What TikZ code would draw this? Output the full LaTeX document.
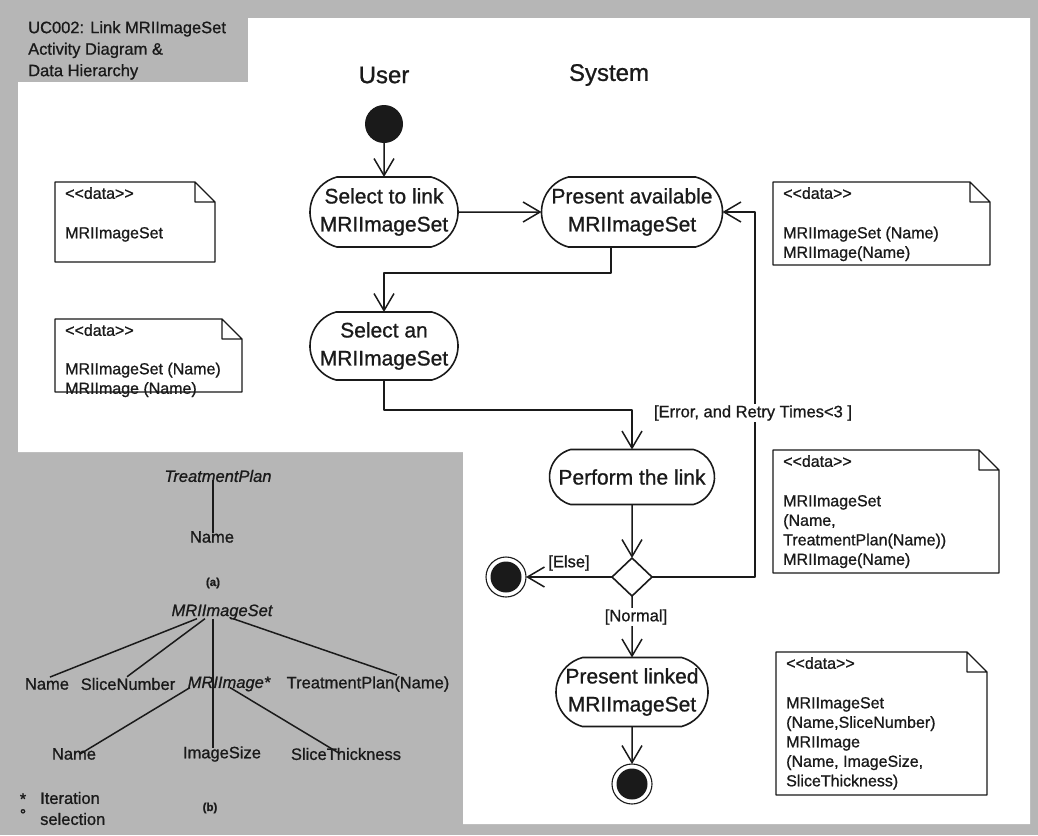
\documentclass[tikz,border=0pt]{standalone}
\usepackage{fontspec}
\setmainfont{Liberation Sans}[FakeBold=0.9]
\usetikzlibrary{arrows.meta,shapes.misc,shapes.geometric}

\definecolor{panelgrey}{RGB}{182,182,182}
\definecolor{ink}{RGB}{26,26,26}

% stereotype brackets, kept apart so they are not merged into guillemets
\newcommand\guil[1]{<\kern0pt<#1>\kern0pt>}

% data note with a folded corner: name, x, y, width, height, text
\newcommand\datanote[6]{%
  \node[notebase, minimum width=#4pt, minimum height=#5pt] (#1) at (#2,#3) {};
  \draw[noteline] (#1.north west) -- ([xshift=-20pt]#1.north east)
    -- ([yshift=-20pt]#1.north east) -- (#1.south east) -- (#1.south west) -- cycle
    ([xshift=-20pt]#1.north east) |- ([yshift=-20pt]#1.north east);
  \node[notetext] (#1-txt) at ([shift={(10pt,-5pt)}]#1.north west) {#6};
}

\tikzset{
  act/.style={draw=ink, line width=1.6pt, rounded rectangle,
    rounded rectangle arc length=150, align=center, inner xsep=4pt,
    inner ysep=0pt, outer sep=0pt, text=ink, fill=white,
    font=\fontsize{21}{28}\selectfont},
  flow/.style={draw=ink, line width=1.5pt, -{Straight Barb[length=17pt,width=20pt]}},
  guard/.style={fill=white, inner sep=1.5pt, text=ink, font=\fontsize{16.5}{19}\selectfont},
  notebase/.style={anchor=north west, inner sep=0pt, outer sep=0pt},
  noteline/.style={draw=ink, line width=1.3pt, fill=white},
  notetext/.style={anchor=north west, align=left, inner sep=0pt, text=ink,
    font=\fontsize{16}{19.5}\selectfont},
  treetext/.style={inner sep=2pt, text=ink, font=\fontsize{16.5}{19}\selectfont},
  treeline/.style={draw=ink, line width=1.5pt},
  startnode/.style={circle, fill=ink, minimum size=38pt, inner sep=0pt, outer sep=0pt},
  endnode/.style={circle, draw=ink, line width=1.1pt, fill=white, minimum size=40pt,
    inner sep=0pt, outer sep=0pt,
    path picture={\fill[ink] (path picture bounding box.center) circle (15.5pt);}},
  decision/.style={diamond, draw=ink, line width=1.6pt, fill=white,
    minimum width=40pt, minimum height=38pt, inner sep=0pt, outer sep=0pt},
  heading/.style={text=ink, font=\fontsize{24}{28}\selectfont},
}

\begin{document}
\begin{tikzpicture}[x=1pt, y=-1pt, line join=round]
\useasboundingbox (0,0) rectangle (1038,835);

% backdrop: grey frame, title tab and hierarchy panel, white drawing area
\fill[panelgrey] (0,0) rectangle (1038,835);
\fill[white] (248,18) -- (1030,18) -- (1030,824) -- (463,824) -- (463,452)
  -- (18,452) -- (18,82) -- (248,82) -- cycle;

\node[anchor=north west, align=left, inner sep=0pt, text=ink,
  font=\fontsize{16.5}{21.5}\selectfont] (title) at (28,21)
  {UC002: Link MRIImageSet\\Activity Diagram \&\\Data Hierarchy};

% swimlane headings
\node[heading] (huser) at (384,75) {User};
\node[heading] (hsys) at (609,75) {System};

% activity flow
\node[startnode] (start) at (384,124) {};
\node[act, minimum width=156pt, minimum height=70pt] (sel1) at (384,212) {Select to link\\MRIImageSet};
\node[act, minimum width=189pt, minimum height=70pt] (pres) at (632,212) {Present available\\MRIImageSet};
\node[act, minimum width=156pt, minimum height=68pt] (sel2) at (384,346) {Select an\\MRIImageSet};
\node[act, minimum width=173pt, minimum height=55pt] (perf) at (632,477) {Perform the link};
\node[decision] (dec) at (632,577) {};
\node[endnode] (endE) at (506,577) {};
\node[act, minimum width=160pt, minimum height=69pt] (pl) at (632,692) {Present linked\\MRIImageSet};
\node[endnode] (endF) at (632,784) {};
\coordinate (loopc) at (755,577);

\draw[flow] (start) -- (sel1);
\draw[flow] (sel1) -- (pres);
\draw[flow] ([xshift=-21pt]pres.south) -- ++(0,26) -| (sel2.north);
\draw[flow] (sel2.south) -- ++(0,30) -| (perf.north);
\draw[flow] (perf) -- (dec);
\draw[flow] (dec) -- (endE);
\draw[flow] (dec.east) -- (loopc) |- (pres.east);
\draw[flow] (dec) -- (pl);
\draw[flow] (pl) -- (endF);

\node[guard] (gelse) at (569,563) {[Else]};
\node[guard] (gnorm) at (636,617) {[Normal]};
\node[guard] (gerr) at (753,413) {[Error, and Retry Times<3 ]};

% data notes
\datanote{nl1}{55}{182}{160}{80}{\guil{data}\\[20pt]MRIImageSet}
\datanote{nl2}{55}{319}{187}{73}{\guil{data}\\[19pt]MRIImageSet (Name)\\MRIImage (Name)}
\datanote{nr1}{773}{182}{217}{83}{\guil{data}\\[20pt]MRIImageSet (Name)\\MRIImage(Name)}
\datanote{nr2}{773}{450}{226}{123}{\guil{data}\\[20pt]MRIImageSet\\(Name,\\TreatmentPlan(Name))\\MRIImage(Name)}
\datanote{nr3}{776}{652}{211}{143}{\guil{data}\\[20pt]MRIImageSet\\(Name,SliceNumber)\\MRIImage\\(Name, ImageSize,\\SliceThickness)}

% data hierarchy (a)
\node[treetext, font=\fontsize{16.5}{19}\itshape] (tp) at (218,476) {TreatmentPlan};
\node[treetext] (tpn) at (212,537) {Name};
\draw[treeline] ([xshift=-5pt,yshift=4pt]tp.south) -- ([xshift=-5pt,yshift=-4pt]tp.south |- tpn.north);
\node[treetext, font=\fontsize{11.5}{13}\bfseries] (capa) at (213,583) {(a)};

% data hierarchy (b)
\node[treetext, font=\fontsize{16.5}{19}\itshape] (ms) at (222,612) {MRIImageSet};
\node[treetext] (n1) at (47,684) {Name};
\node[treetext] (sn) at (128,684) {SliceNumber};
\node[treetext, font=\fontsize{16.5}{19}\itshape] (mi) at (229,684) {MRIImage*};
\node[treetext] (tpr) at (368,684) {TreatmentPlan(Name)};
\node[treetext] (n2) at (74,754) {Name};
\node[treetext] (is) at (222,754) {ImageSize};
\node[treetext] (st) at (346,754) {SliceThickness};

\draw[treeline] ([xshift=-25pt,yshift=3pt]ms.south) -- ([xshift=3pt,yshift=-1pt]n1.north);
\draw[treeline] ([xshift=-17pt,yshift=3pt]ms.south) -- ([xshift=-1pt,yshift=-1pt]sn.north);
\draw[treeline] ([xshift=-9pt,yshift=3pt]ms.south) -- ([xshift=-9pt,yshift=-4pt]ms.south |- is.north);
\draw[treeline] ([xshift=11pt,yshift=3pt]ms.south) -- ([xshift=29pt,yshift=-1pt]tpr.north);
\draw[treeline] ([xshift=-39pt,yshift=6pt]mi.south) -- ([xshift=6pt,yshift=-8pt]n2.north);
\draw[treeline] ([xshift=1pt,yshift=6pt]mi.south) -- ([xshift=-6pt,yshift=-8pt]st.north);

\node[treetext, font=\fontsize{11.5}{13}\bfseries] (capb) at (210,808) {(b)};
\node[treetext] (star) at (23,799) {*};
\node[treetext, anchor=west, inner sep=0pt] (iter) at (40,798) {Iteration};
\node[treetext, font=\fontsize{14}{16}\bfseries] (ring) at (23,814) {°};
\node[treetext, anchor=west, inner sep=0pt] (sel) at (40,819) {selection};
\end{tikzpicture}
\end{document}
